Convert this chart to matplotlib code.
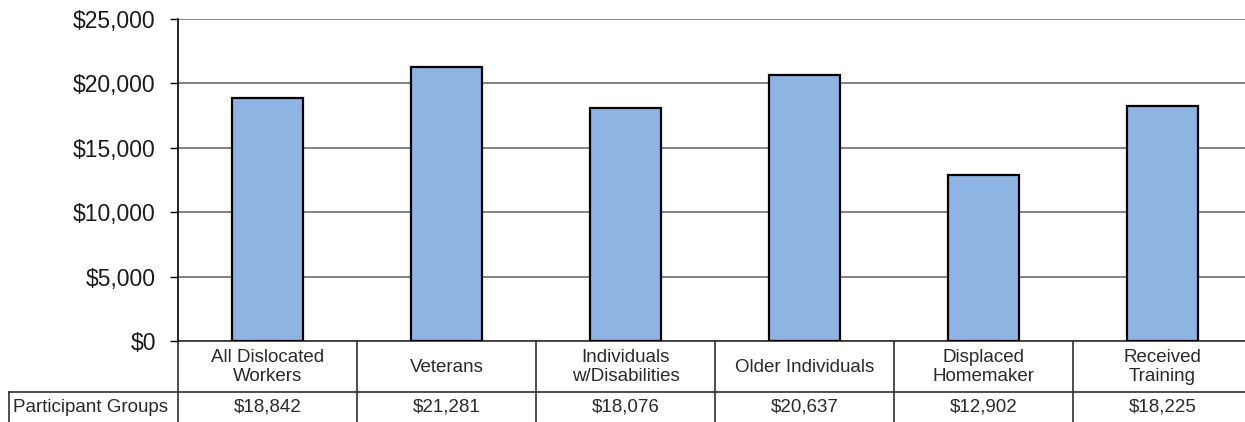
import matplotlib.pyplot as plt
from matplotlib.ticker import FuncFormatter
import matplotlib.transforms as mtransforms

categories = ['All Dislocated\nWorkers', 'Veterans', 'Individuals\nw/Disabilities',
              'Older Individuals', 'Displaced\nHomemaker', 'Received\nTraining']
values = [18842, 21281, 18076, 20637, 12902, 18225]
row_label = 'Participant Groups'

plt.rcParams['font.family'] = ['Liberation Sans', 'DejaVu Sans']

W, H = 1245, 422
fig = plt.figure(figsize=(W / 100, H / 100), dpi=100)

# plot area in pixels
left_px, top_px, bottom_px = 178, 19, 341
cell_px = 179
ax = fig.add_axes([left_px / W, 1 - bottom_px / H,
                   6 * cell_px / W, (bottom_px - top_px) / H])

x = list(range(len(values)))
ax.bar(x, values, width=0.4, color='#8EB4E3', edgecolor='black', linewidth=1.6, zorder=3)

ax.set_xlim(-0.5, len(values) - 0.5)
ax.set_ylim(0, 25000)
ax.set_yticks(range(0, 25001, 5000))
ax.yaxis.set_major_formatter(FuncFormatter(lambda v, p: '${:,.0f}'.format(v)))
ax.tick_params(axis='y', labelsize=16.5, length=6, width=1, direction='out', pad=10,
               labelcolor='#1a1a1a')
ax.set_xticks([])
ax.grid(axis='y', color='#6e6e6e', linewidth=1.2, zorder=0)
for s in ['top', 'right', 'bottom']:
    ax.spines[s].set_visible(False)
ax.spines['left'].set_linewidth(1.2)


def ypx(p):
    # pixel row -> axes fraction
    return (bottom_px - p) / (bottom_px - top_px)


def xpx(p):
    # pixel column -> data x
    return -0.5 + (p - left_px) / cell_px


tr = mtransforms.blended_transform_factory(ax.transData, ax.transAxes)
lc = '#303030'
kw = dict(transform=tr, clip_on=False, color=lc, linewidth=1.2)

# data table under the axis
ax.plot([xpx(left_px), len(values) - 0.5], [0, 0], **kw)
ax.plot([xpx(9), len(values) - 0.5], [ypx(392), ypx(392)], **kw)
ax.plot([xpx(9), xpx(9)], [ypx(392), ypx(H)], **kw)
for i in range(len(values) + 1):
    ax.plot([i - 0.5, i - 0.5], [0, ypx(H)], **kw)

for i, (c, v) in enumerate(zip(categories, values)):
    ax.text(i, ypx(367), c, transform=tr, ha='center', va='center', fontsize=13.5,
            linespacing=1.15, color='#2a2a2a')
    ax.text(i, ypx(407), '${:,}'.format(v), transform=tr, ha='center', va='center',
            fontsize=13.5, color='#2a2a2a')
ax.text(xpx(13), ypx(407), row_label, transform=tr, ha='left', va='center',
        fontsize=13.5, color='#2a2a2a')

fig.savefig('out.png', dpi=100)
